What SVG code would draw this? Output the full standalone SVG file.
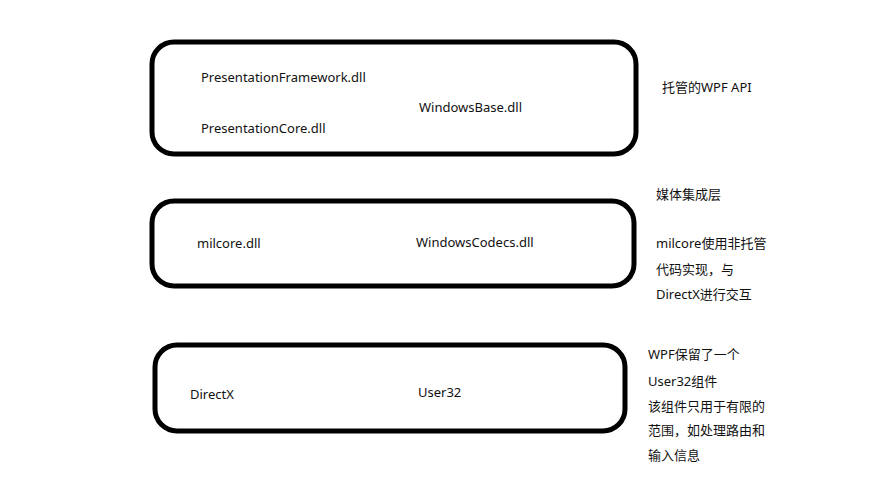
<svg xmlns="http://www.w3.org/2000/svg" width="891" height="491" viewBox="0 0 891 491">
<style>
.box{fill:#fff;stroke:#000;stroke-width:5}
text{font-family:"Noto Sans","Noto Sans CJK SC",sans-serif;font-size:13px;fill:#111}
</style>
<rect width="891" height="491" fill="#fff"/>
<g id="layer-managed">
<rect class="box" x="152" y="42" width="484" height="112" rx="22"/>
<text x="201" y="82">PresentationFramework.dll</text>
<text x="201" y="133">PresentationCore.dll</text>
<text x="419" y="112">WindowsBase.dll</text>
</g>
<g id="layer-media">
<rect class="box" x="152" y="201" width="482" height="85" rx="22"/>
<text x="197" y="248">milcore.dll</text>
<text x="416" y="247">WindowsCodecs.dll</text>
</g>
<g id="layer-os">
<rect class="box" x="155" y="345" width="470" height="86" rx="22"/>
<text x="190" y="399">DirectX</text>
<text x="418" y="397">User32</text>
</g>
<g id="notes">
<text x="662" y="92">托管的WPF API</text>
<text x="656" y="199">媒体集成层</text>
<text x="656" y="248">milcore使用非托管</text>
<text x="656" y="274">代码实现，与</text>
<text x="656" y="299">DirectX进行交互</text>
<text x="648" y="359">WPF保留了一个</text>
<text x="648" y="386">User32组件</text>
<text x="648" y="411">该组件只用于有限的</text>
<text x="648" y="435">范围，如处理路由和</text>
<text x="648" y="460">输入信息</text>
</g>
<g id="connectors"></g>
</svg>
